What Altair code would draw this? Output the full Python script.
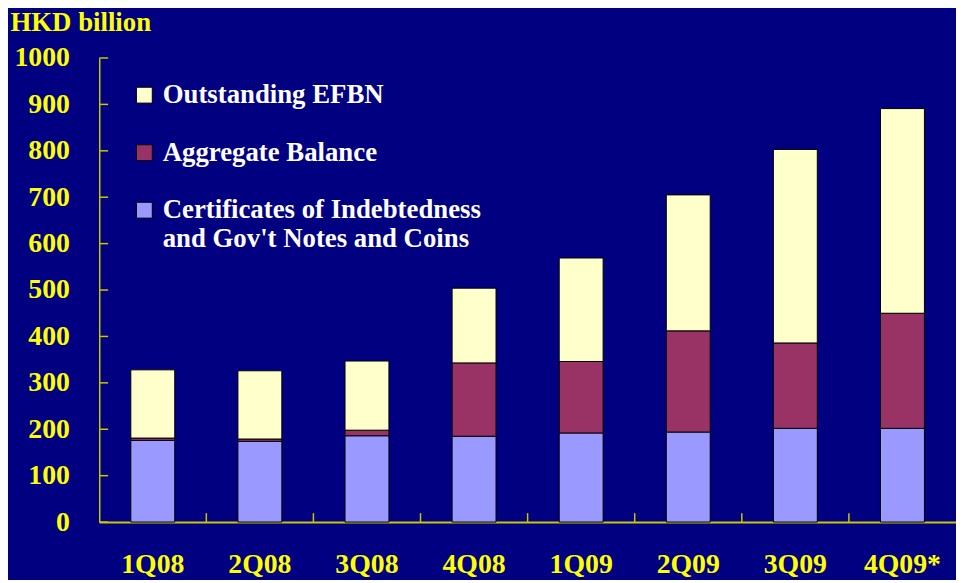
import altair as alt
import pandas as pd

quarters = ["1Q08", "2Q08", "3Q08", "4Q08", "1Q09", "2Q09", "3Q09", "4Q09*"]
cert_indebtedness = [176, 174, 186, 185, 192, 194, 202, 202]
aggregate_balance = [5, 5, 12, 158, 154, 218, 184, 248]
outstanding_efbn = [147, 147, 149, 161, 223, 293, 417, 441]
series_names = [
    "Outstanding EFBN",
    "Aggregate Balance",
    "Certificates of Indebtedness|and Gov't Notes and Coins",
]
series_colors = ["#FFFFCC", "#993366", "#9999FF"]
y_tick_values = list(range(0, 1001, 100))

rows = []
for i, q in enumerate(quarters):
    rows.append({"quarter": q, "series": series_names[2], "value": cert_indebtedness[i], "stackorder": 0})
    rows.append({"quarter": q, "series": series_names[1], "value": aggregate_balance[i], "stackorder": 1})
    rows.append({"quarter": q, "series": series_names[0], "value": outstanding_efbn[i], "stackorder": 2})
df = pd.DataFrame(rows)

AXIS_COLOR = "#C8C800"
YELLOW = "#FFFF00"
FONT = "Liberation Serif"
W, H = 864, 468

x_enc = alt.X(
    "quarter:N",
    sort=quarters,
    scale=alt.Scale(paddingInner=0, paddingOuter=0),
    axis=alt.Axis(
        title=None, labelAngle=0, ticks=False, domain=True, domainColor=AXIS_COLOR,
        domainWidth=2, labelColor=YELLOW, labelFont=FONT, labelFontSize=28,
        labelFontWeight="bold", labelPadding=29, labelBaseline="top",
    ),
)

y_scale = alt.Scale(domain=[0, 1000], nice=False)

bars = alt.Chart(df).mark_bar(
    width=alt.RelativeBandSize(0.41), stroke="black", strokeWidth=1
).encode(
    x=x_enc,
    y=alt.Y(
        "value:Q",
        stack="zero",
        scale=y_scale,
        axis=alt.Axis(
            values=y_tick_values, format="d", ticks=False, grid=False, domain=True,
            domainColor=AXIS_COLOR, domainWidth=1.5, labelColor=YELLOW,
            labelFont=FONT, labelFontSize=28, labelFontWeight="bold",
            labelPadding=30, title="HKD billion", titleAngle=0, titleX=-90,
            titleY=-49, titleAlign="left", titleBaseline="top", titleColor=YELLOW,
            titleFont=FONT, titleFontSize=27, titleFontWeight="bold",
        ),
    ),
    color=alt.Color(
        "series:N",
        scale=alt.Scale(domain=series_names, range=series_colors),
        legend=alt.Legend(
            title=None, orient="none", legendX=32, legendY=24, padding=0,
            symbolType="square", symbolSize=256, symbolStrokeColor="black",
            symbolStrokeWidth=1, symbolOpacity=1, labelExpr="split(datum.label, '|')",
            labelColor="white", labelFont=FONT, labelFontSize=27,
            labelFontWeight="bold", labelLimit=700, labelOffset=5,
            rowPadding=30, labelBaseline="middle",
        ),
    ),
    order=alt.Order("stackorder:Q", sort="ascending"),
)

ytick_df = pd.DataFrame({"v": y_tick_values})
yticks = alt.Chart(ytick_df).mark_rule(color=AXIS_COLOR, strokeWidth=1.5).encode(
    y=alt.Y("v:Q", scale=y_scale),
    x=alt.value(0),
    x2=alt.value(9),
)

xtick_df = pd.DataFrame({"quarter": quarters[1:]})
xticks = alt.Chart(xtick_df).mark_rule(color=AXIS_COLOR, strokeWidth=1.5).encode(
    x=alt.X("quarter:N", sort=quarters, bandPosition=0),
    y=alt.value(H),
    y2=alt.value(H - 9),
)

chart = alt.layer(bars, yticks, xticks).properties(
    width=W,
    height=H,
    autosize=alt.AutoSizeParams(type="none"),
    padding={"left": 92, "top": 48, "right": 0, "bottom": 56},
    background="#000080",
).configure_view(stroke=None, fill="#000080")

chart.save("out.html", embed_options={"renderer": "svg", "actions": False})
